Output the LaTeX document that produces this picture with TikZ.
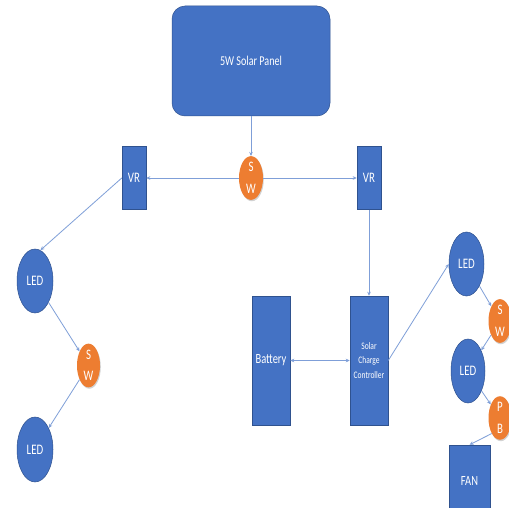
\documentclass[tikz,border=0pt]{standalone}
\usepackage{fontspec}
\setmainfont{Carlito}[FakeStretch=0.75]
\usetikzlibrary{shapes.geometric,arrows.meta,shadows}
\definecolor{boxblue}{HTML}{4472C4}
\definecolor{boxedge}{HTML}{2F528F}
\definecolor{swor}{HTML}{ED7D31}
\definecolor{linec}{HTML}{7F9FD8}
\tikzset{
  bluebox/.style={rectangle, fill=boxblue, draw=boxedge, line width=0.5pt, text=white, inner sep=0pt, align=center},
  blueell/.style={ellipse, fill=boxblue, draw=boxedge, line width=0.5pt, text=white, inner sep=0pt, font=\fontsize{14.5}{16}\selectfont},
  orell/.style={ellipse, fill=swor, draw=none, text=white, inner sep=0pt, align=center,
    font=\fontsize{14.5}{21.5}\selectfont,
    drop shadow={shadow xshift=0.8pt, shadow yshift=-1.4pt, opacity=0.35}},
  conn/.style={draw=linec, line width=0.8pt, -{Stealth[length=4pt,width=3.6pt]}},
  conn2/.style={draw=linec, line width=0.8pt, {Stealth[length=4pt,width=3.6pt]}-{Stealth[length=4pt,width=3.6pt]}}
}
\begin{document}
\begin{tikzpicture}[x=1pt,y=-1pt]
\clip (0,0) rectangle (509,508);
\fill[white] (0,0) rectangle (509,508);
\node[bluebox, rounded corners=13pt, minimum width=158pt, minimum height=110pt, font=\fontsize{13.5}{15}\selectfont] (panel) at (251,61) {5W Solar Panel};
\node[orell, minimum width=24pt, minimum height=42pt] (swtop) at (251,178) {S\\W};
\node[bluebox, minimum width=24pt, minimum height=63pt, font=\fontsize{14.5}{16}\selectfont] (vrL) at (134,178) {VR};
\node[bluebox, minimum width=24pt, minimum height=63pt, font=\fontsize{14.5}{16}\selectfont] (vrR) at (369,178) {VR};
\node[blueell, minimum width=36pt, minimum height=64pt] (ledL1) at (35,281) {LED};
\node[orell, minimum width=23pt, minimum height=41pt] (swL) at (88.5,365.5) {S\\W};
\node[blueell, minimum width=36pt, minimum height=65pt] (ledL2) at (35,449.5) {LED};
\node[bluebox, minimum width=38pt, minimum height=129pt, font=\fontsize{14}{16}\selectfont] (bat) at (271,360.5) {Battery};
\node[bluebox, minimum width=38pt, minimum height=129pt, font=\fontsize{10}{14.5}\selectfont] (scc) at (369,360.5) {Solar\\Charge\\Controller};
\node[blueell, minimum width=35pt, minimum height=64pt] (ledR1) at (466.5,264) {LED};
\node[orell, minimum width=23pt, minimum height=42pt] (swR) at (500,321) {S\\W};
\node[blueell, minimum width=34pt, minimum height=64pt] (ledR2) at (468,371) {LED};
\node[orell, minimum width=23pt, minimum height=40pt] (pb) at (500,418) {P\\B};
\node[bluebox, minimum width=41pt, minimum height=72pt, font=\fontsize{14}{16}\selectfont, text depth=0pt] (fan) at (469.5,481) {FAN};

\draw[conn] (panel.south) -- (swtop.north);
\draw[conn] (swtop.west) -- (vrL.east);
\draw[conn] (swtop.east) -- (vrR.west);
\draw[conn] (vrR.south) -- (scc.north);
\draw[conn] (vrL.west) -- (ledL1.80);
\draw[conn] (ledL1) -- (swL);
\draw[conn] (swL) -- (ledL2);
\draw[conn2] (bat.east) -- (scc.west);
\draw[conn] (scc.east) -- (ledR1.west);
\draw[conn] (ledR1) -- (swR);
\draw[conn] (swR) -- (ledR2);
\draw[conn] (ledR2) -- (pb);
\draw[conn] (pb.south west) -- (fan.north);
\end{tikzpicture}
\end{document}
